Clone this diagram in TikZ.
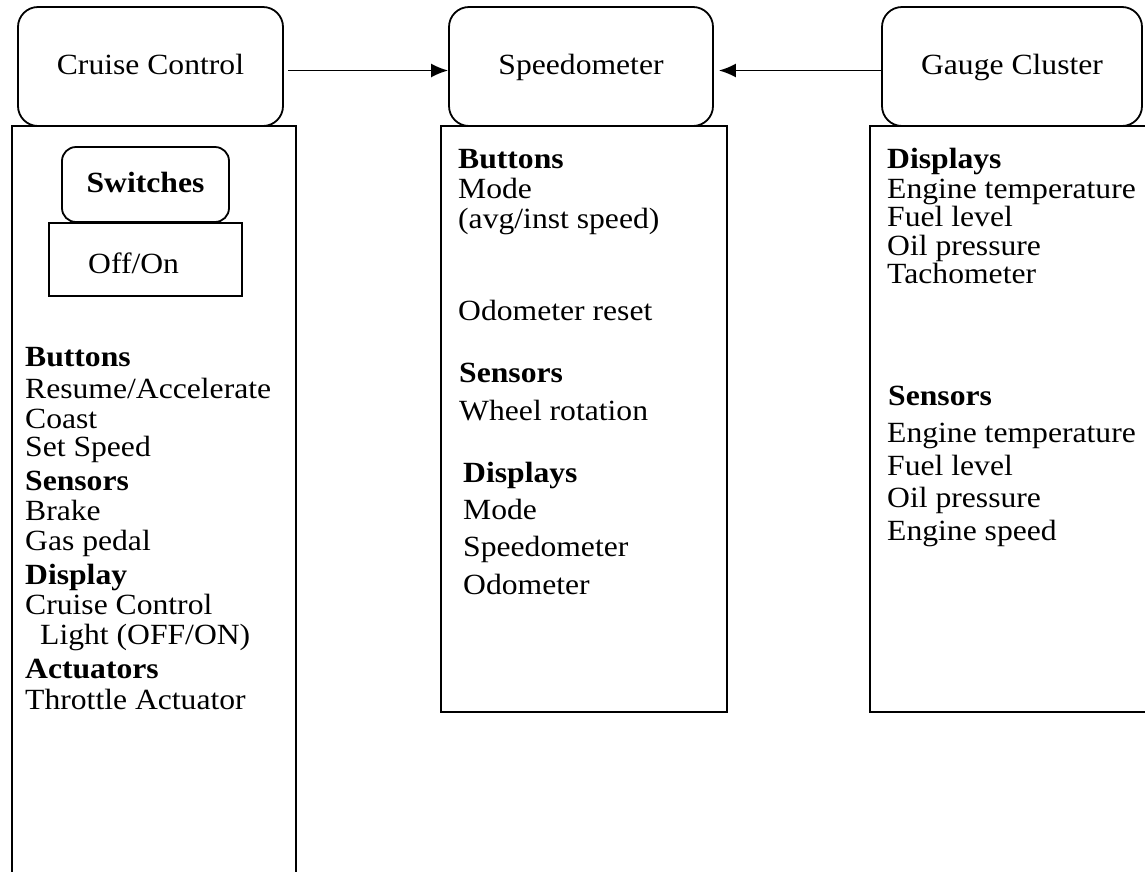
\documentclass[tikz,border=0pt]{standalone}
\usepackage{fontspec}
\setmainfont[FakeStretch=1.08]{Liberation Serif}
\usepackage{tikz}
\usetikzlibrary{arrows.meta}

\tikzset{
  unit/.style = {draw, line width=1.8pt, rounded corners=20pt, minimum height=119pt, inner sep=0pt,
    text height=21pt, text depth=6pt, font=\fontsize{29.3}{36}\selectfont},
  panel/.style = {draw, line width=1.8pt, inner sep=0pt},
  txt/.style = {anchor=base west, inner sep=0pt, font=\fontsize{29.3}{36}\selectfont},
  hd/.style = {txt, font=\fontsize{29.3}{36}\selectfont\bfseries},
  link/.style = {-{Latex[length=17pt,width=14pt]}, line width=1.8pt}
}

\begin{document}
\begin{tikzpicture}[x=1pt, y=-1pt]
\useasboundingbox (0,0) rectangle (1145,871);
\clip (0,0) rectangle (1145,871);

\node[panel, minimum width=284pt, minimum height=780pt] (ccpanel) at (154,516) {};
\node[panel, minimum width=286pt, minimum height=586pt] (sppanel) at (584,419) {};
\node[panel, minimum width=300pt, minimum height=586pt] (gcpanel) at (1020,419) {};

\node[unit, minimum width=265pt] (cruise) at (150.5,66.5) {Cruise Control};
\node[unit, minimum width=264pt] (speedo) at (581,66.5) {Speedometer};
\node[unit, minimum width=260pt] (gauge) at (1012,66.5) {Gauge Cluster};

\draw[link, shorten <=4pt] ([yshift=-4pt]cruise.east) -- ([yshift=-4pt]speedo.west);
\draw[link, shorten >=5pt] ([yshift=-4pt]gauge.west) -- ([yshift=-4pt]speedo.east);

\node[unit, rounded corners=14pt, minimum width=167pt, minimum height=75pt, font=\fontsize{29.3}{36}\selectfont\bfseries] (switches) at (145.5,184.5) {Switches};
\node[panel, minimum width=193pt, minimum height=73pt] (onoff) at (145.5,259.5) {};
\node[txt] (onofftxt) at (88,273) {Off/On};

\node[hd]  (ccbtn)   at (25,366) {Buttons};
\node[txt] (ccres)   at (25,398) {Resume/Accelerate};
\node[txt] (cccoast) at (25,428) {Coast};
\node[txt] (ccset)   at (25,456) {Set Speed};
\node[hd]  (ccsen)   at (25,490) {Sensors};
\node[txt] (ccbrake) at (25,520) {Brake};
\node[txt] (ccgas)   at (25,550) {Gas pedal};
\node[hd]  (ccdisp)  at (25,584) {Display};
\node[txt] (cccc)    at (25,614) {Cruise Control};
\node[txt] (cclight) at (40,644) {Light (OFF/ON)};
\node[hd]  (ccact)   at (25,678) {Actuators};
\node[txt] (ccthr)   at (25,709) {Throttle Actuator};

\node[hd]  (spbtn)   at (458,168) {Buttons};
\node[txt] (spmode)  at (458,198) {Mode};
\node[txt] (spavg)   at (458,228) {(avg/inst speed)};
\node[txt] (spodo)   at (458,320) {Odometer reset};
\node[hd]  (spsen)   at (459,382) {Sensors};
\node[txt] (spwheel) at (459,420) {Wheel rotation};
\node[hd]  (spdisp)  at (463,482) {Displays};
\node[txt] (spmode2) at (463,519) {Mode};
\node[txt] (spspeed) at (463,556) {Speedometer};
\node[txt] (spodo2)  at (463,594) {Odometer};

\node[hd]  (gcdisp)  at (887,168) {Displays};
\node[txt] (gcet)    at (887,198) {Engine temperature};
\node[txt] (gcfuel)  at (887,226) {Fuel level};
\node[txt] (gcoil)   at (887,255) {Oil pressure};
\node[txt] (gctach)  at (887,283) {Tachometer};
\node[hd]  (gcsen)   at (888,405) {Sensors};
\node[txt] (gcet2)   at (887,442) {Engine temperature};
\node[txt] (gcfuel2) at (887,475) {Fuel level};
\node[txt] (gcoil2)  at (887,507) {Oil pressure};
\node[txt] (gcspeed) at (887,540) {Engine speed};
\end{tikzpicture}
\end{document}
